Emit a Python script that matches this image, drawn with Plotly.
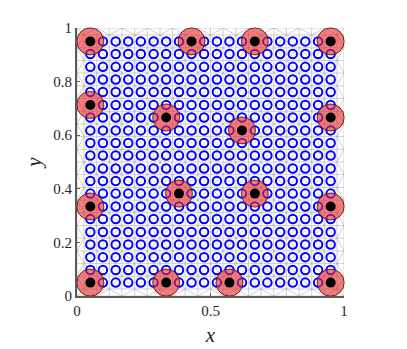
import plotly.graph_objects as go

# blue sample grid (same values in x and y)
grid_vals = [0.05, 0.097, 0.145, 0.192, 0.239, 0.287, 0.334, 0.382, 0.429, 0.476,
             0.524, 0.571, 0.618, 0.666, 0.713, 0.761, 0.808, 0.855, 0.903, 0.95]

# selected points (red disks with black centre)
sel_x = [0.05, 0.429, 0.666, 0.95, 0.05, 0.334, 0.618, 0.95,
         0.382, 0.666, 0.05, 0.95, 0.05, 0.334, 0.571, 0.95]
sel_y = [0.95, 0.95, 0.95, 0.95, 0.713, 0.666, 0.618, 0.666,
         0.382, 0.382, 0.334, 0.334, 0.05, 0.05, 0.05, 0.05]

# background mesh node positions
mesh_vals = [0.0, 0.026, 0.074, 0.121, 0.168, 0.216, 0.263, 0.311, 0.358, 0.405, 0.453,
             0.5, 0.547, 0.595, 0.642, 0.689, 0.737, 0.784, 0.832, 0.879, 0.926, 0.974, 1.0]

x_ticks = [0, 0.5, 1]
y_ticks = [0, 0.2, 0.4, 0.6, 0.8, 1]

SERIF = "Liberation Serif, DejaVu Serif, serif"

fig = go.Figure()

# mesh edges
mx, my = [], []
n = len(mesh_vals)
for j in range(n):
    for i in range(n):
        x0, y0 = mesh_vals[i], mesh_vals[j]
        if i + 1 < n:
            mx += [x0, mesh_vals[i + 1], None]
            my += [y0, y0, None]
        if j + 1 < n:
            mx += [x0, x0, None]
            my += [y0, mesh_vals[j + 1], None]
        if i + 1 < n and j + 1 < n:
            if (i + j) % 2 == 0:
                mx += [x0, mesh_vals[i + 1], None]
                my += [y0, mesh_vals[j + 1], None]
            else:
                mx += [mesh_vals[i + 1], x0, None]
                my += [y0, mesh_vals[j + 1], None]
fig.add_trace(go.Scatter(x=mx, y=my, mode="lines",
                         line=dict(color="rgba(165,165,165,0.75)", width=0.7),
                         hoverinfo="skip", showlegend=False))

# blue grid (skip the selected locations)
sel = set(zip(sel_x, sel_y))
bx, by = [], []
for yv in grid_vals:
    for xv in grid_vals:
        if (xv, yv) not in sel:
            bx.append(xv)
            by.append(yv)
fig.add_trace(go.Scatter(x=bx, y=by, mode="markers",
                         marker=dict(symbol="circle-open", size=8.5, color="blue",
                                     line=dict(width=2, color="blue")),
                         cliponaxis=False, showlegend=False))

# red disks
fig.add_trace(go.Scatter(x=sel_x, y=sel_y, mode="markers",
                         marker=dict(symbol="circle", size=27, color="rgba(235,40,40,0.6)",
                                     line=dict(width=0.8, color="#3a1010")),
                         cliponaxis=False, showlegend=False))
fig.add_trace(go.Scatter(x=sel_x, y=sel_y, mode="markers",
                         marker=dict(symbol="circle", size=10, color="black"),
                         cliponaxis=False, showlegend=False))

axis_common = dict(range=[0, 1], showgrid=False, zeroline=False, showline=True,
                   linecolor="#5a5a5a", linewidth=2, ticks="inside", ticklen=3,
                   tickcolor="#5a5a5a", automargin=False,
                   tickfont=dict(family=SERIF, size=15, color="#262626"))
# page body adds an 8px margin, so the figure is a bit smaller than the window
fig.update_layout(
    width=399, height=341,
    margin=dict(l=69, r=63, t=20, b=53, autoexpand=False),
    plot_bgcolor="white", paper_bgcolor="white",
    xaxis=dict(**axis_common, tickvals=x_ticks, ticktext=["0", "0.5", "1"],
               title=dict(text="<i>x</i>", font=dict(family=SERIF, size=21,
                                                       color="#262626"), standoff=9)),
    yaxis=dict(**axis_common, tickvals=y_ticks, ticktext=["0", "0.2", "0.4", "0.6", "0.8", "1"],
               title=dict(text="<i>y</i>", font=dict(family=SERIF, size=21,
                                                       color="#262626"), standoff=6)),
)

fig.write_html("out.html")
